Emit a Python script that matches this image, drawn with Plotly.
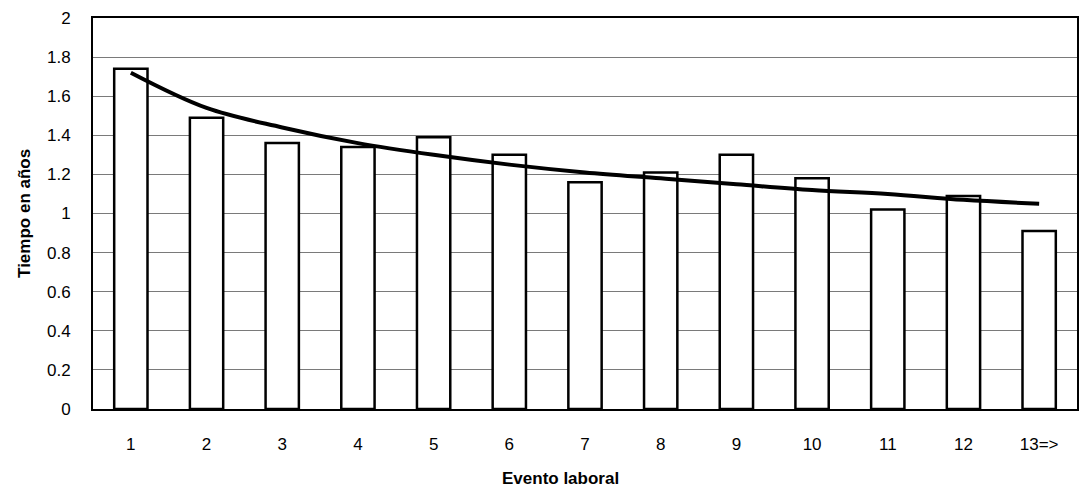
import plotly.graph_objects as go

categories = ["1", "2", "3", "4", "5", "6", "7", "8", "9", "10", "11", "12", "13=>"]
tiempo = [1.74, 1.49, 1.36, 1.34, 1.39, 1.30, 1.16, 1.21, 1.30, 1.18, 1.02, 1.09, 0.91]
tendencia = [1.72, 1.54, 1.44, 1.36, 1.30, 1.25, 1.21, 1.18, 1.15, 1.12, 1.10, 1.07, 1.05]
y_ticks = [0, 0.2, 0.4, 0.6, 0.8, 1, 1.2, 1.4, 1.6, 1.8, 2]
y_labels = ["0", "0.2", "0.4", "0.6", "0.8", "1", "1.2", "1.4", "1.6", "1.8", "2"]

fig = go.Figure()
fig.add_trace(go.Bar(
    x=categories, y=tiempo,
    marker=dict(color="white", line=dict(color="black", width=2.5)),
    width=0.44, showlegend=False,
))
fig.add_trace(go.Scatter(
    x=categories, y=tendencia, mode="lines",
    line=dict(color="black", width=4, shape="spline"),
    showlegend=False,
))

fig.update_layout(
    width=1082, height=492,
    margin=dict(l=93, r=5, t=18, b=83),
    paper_bgcolor="white", plot_bgcolor="white",
    font=dict(family="Liberation Sans, Arial, sans-serif", color="black", size=17),
    xaxis=dict(
        type="category", showgrid=False, showline=True, linecolor="black", linewidth=2,
        mirror=True, ticks="", ticklabelstandoff=19, automargin=False,
        tickfont=dict(size=17),
    ),
    yaxis=dict(
        range=[0, 2], tickvals=y_ticks, ticktext=y_labels,
        showgrid=True, gridcolor="#7a7a7a", gridwidth=1,
        showline=True, linecolor="black", linewidth=2, mirror=True,
        zeroline=False, ticks="", ticklabelstandoff=17, automargin=False,
        tickfont=dict(size=17),
    ),
    annotations=[
        dict(text="<b>Evento laboral</b>", xref="paper", yref="paper",
             x=0.5, y=-0.142, yanchor="top", showarrow=False, font=dict(size=17),
             xshift=-25, yshift=-2),
        dict(text="<b>Tiempo en años</b>", xref="paper", yref="paper",
             x=-0.058, y=0.5, xanchor="right", textangle=-90, showarrow=False,
             font=dict(size=17), xshift=0),
    ],
)

fig.write_html("out.html", config={"displayModeBar": False},
               post_script="document.body.style.margin='0';document.body.style.padding='0';")
